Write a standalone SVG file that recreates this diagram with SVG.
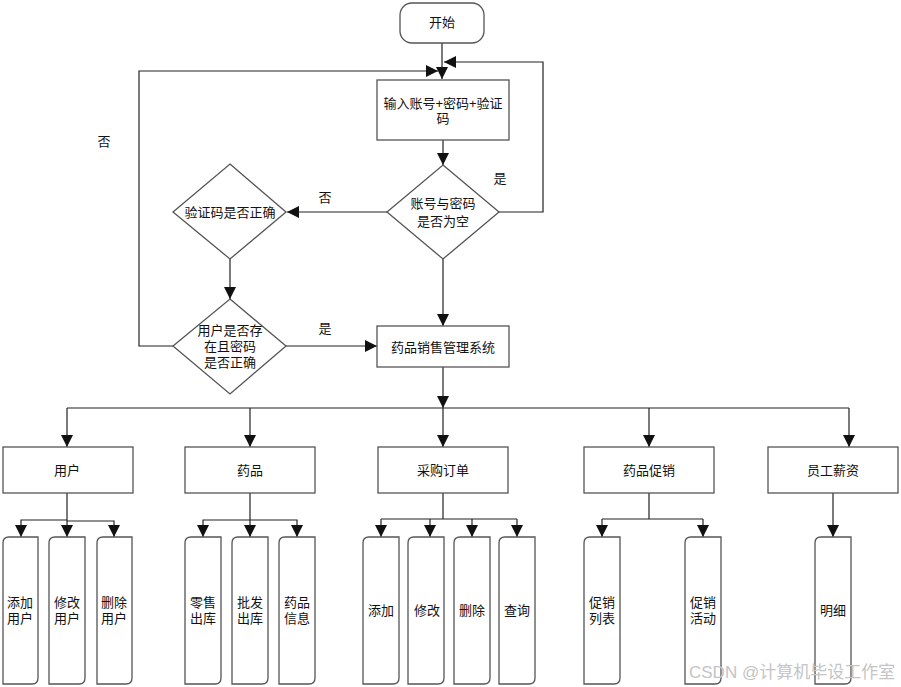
<svg xmlns="http://www.w3.org/2000/svg" width="901" height="687" viewBox="0 0 901 687">
<style>
text{font-family:"Liberation Sans","Noto Sans CJK SC",sans-serif;font-size:13px;fill:#111;text-anchor:middle;dominant-baseline:central}
.box{fill:#fff;stroke:#555;stroke-width:1.3}
.c{fill:none;stroke:#222;stroke-width:1.2}
.wm{fill:#c4c4c4;font-size:17px;text-anchor:start}
</style>
<defs>
<marker id="a" markerUnits="userSpaceOnUse" markerWidth="12" markerHeight="12" viewBox="0 0 10 10" refX="10" refY="5" orient="auto">
<path d="M0,0 L10,5 L0,10 Z" fill="#111"/>
</marker>
</defs>
<rect width="901" height="687" fill="#fff"/>
<g id="connectors">
<path class="c" d="M442,43 V79" marker-end="url(#a)"/>
<path class="c" d="M173,346 H139 V71 H438" marker-end="url(#a)"/>
<path class="c" d="M499,212 H543 V62 H444" marker-end="url(#a)"/>
<path class="c" d="M443,140 V165" marker-end="url(#a)"/>
<path class="c" d="M387,212 H287" marker-end="url(#a)"/>
<path class="c" d="M230,259 V299" marker-end="url(#a)"/>
<path class="c" d="M286,346 H377" marker-end="url(#a)"/>
<path class="c" d="M443,259 V326" marker-end="url(#a)"/>
<path class="c" d="M443,367 V408" marker-end="url(#a)"/>
<path class="c" d="M67,408 H849"/>
<path class="c" d="M67,408 V447" marker-end="url(#a)"/>
<path class="c" d="M250,408 V447" marker-end="url(#a)"/>
<path class="c" d="M443,408 V447" marker-end="url(#a)"/>
<path class="c" d="M649,408 V447" marker-end="url(#a)"/>
<path class="c" d="M849,408 V447" marker-end="url(#a)"/>
<path class="c" d="M67,493 V537" marker-end="url(#a)"/>
<path class="c" d="M67,520 H21 V537" marker-end="url(#a)"/>
<path class="c" d="M67,521 H114 V537" marker-end="url(#a)"/>
<path class="c" d="M250,493 V537" marker-end="url(#a)"/>
<path class="c" d="M250,520 H203 V537" marker-end="url(#a)"/>
<path class="c" d="M250,520 H297 V537" marker-end="url(#a)"/>
<path class="c" d="M443,493 V519"/>
<path class="c" d="M381,519 H517"/>
<path class="c" d="M381,519 V537" marker-end="url(#a)"/>
<path class="c" d="M430,519 V537" marker-end="url(#a)"/>
<path class="c" d="M472,519 V537" marker-end="url(#a)"/>
<path class="c" d="M517,519 V537" marker-end="url(#a)"/>
<path class="c" d="M649,493 V519 M602,519 H703"/>
<path class="c" d="M602,519 V537" marker-end="url(#a)"/>
<path class="c" d="M703,519 V537" marker-end="url(#a)"/>
<path class="c" d="M833,493 V537" marker-end="url(#a)"/>
</g>
<g id="labels">
<text x="500" y="178">是</text>
<text x="325" y="197">否</text>
<text x="325" y="328">是</text>
<text x="104" y="141">否</text>
</g>
<g id="start"><rect class="box" x="400" y="3" width="84" height="40" rx="12"/><text x="442" y="22">开始</text></g>
<g id="input"><rect class="box" x="377" y="80" width="132" height="60"/><text x="443" y="103">输入账号+密码+验证</text><text x="443" y="118">码</text></g>
<g id="d1"><polygon class="box" points="443,165 499,212 443,259 387,212"/><text x="443" y="203">账号与密码</text><text x="443" y="221">是否为空</text></g>
<g id="d2"><polygon class="box" points="230,164 286,212 230,259 173,212"/><text x="230" y="212">验证码是否正确</text></g>
<g id="d3"><polygon class="box" points="230,299 286,346 230,394 173,346"/><text x="230" y="330">用户是否存</text><text x="230" y="346">在且密码</text><text x="230" y="362">是否正确</text></g>
<g id="system"><rect class="box" x="377" y="326" width="132" height="41"/><text x="443" y="347">药品销售管理系统</text></g>
<g id="user"><rect class="box" x="3" y="447" width="130" height="46"/><text x="67" y="470">用户</text></g>
<g id="drug"><rect class="box" x="185" y="447" width="130" height="46"/><text x="250" y="470">药品</text></g>
<g id="purchase"><rect class="box" x="378" y="447" width="130" height="46"/><text x="443" y="470">采购订单</text></g>
<g id="promo"><rect class="box" x="584" y="447" width="130" height="46"/><text x="649" y="470">药品促销</text></g>
<g id="salary"><rect class="box" x="768" y="447" width="130" height="46"/><text x="833" y="470">员工薪资</text></g>
<g id="l1"><path class="box" d="M3,543 Q3,537 9,537 H38 V678 Q38,684 32,684 H3 Z"/><text x="20" y="602">添加</text><text x="20" y="618">用户</text></g>
<g id="l2"><path class="box" d="M49,543 Q49,537 55,537 H85 V678 Q85,684 79,684 H49 Z"/><text x="67" y="602">修改</text><text x="67" y="618">用户</text></g>
<g id="l3"><path class="box" d="M97,543 Q97,537 103,537 H132 V678 Q132,684 126,684 H97 Z"/><text x="114" y="602">删除</text><text x="114" y="618">用户</text></g>
<g id="l4"><path class="box" d="M185,543 Q185,537 191,537 H221 V678 Q221,684 215,684 H185 Z"/><text x="203" y="602">零售</text><text x="203" y="618">出库</text></g>
<g id="l5"><path class="box" d="M232,543 Q232,537 238,537 H268 V678 Q268,684 262,684 H232 Z"/><text x="250" y="602">批发</text><text x="250" y="618">出库</text></g>
<g id="l6"><path class="box" d="M279,543 Q279,537 285,537 H315 V678 Q315,684 309,684 H279 Z"/><text x="297" y="602">药品</text><text x="297" y="618">信息</text></g>
<g id="l7"><path class="box" d="M363,543 Q363,537 369,537 H399 V678 Q399,684 393,684 H363 Z"/><text x="381" y="610">添加</text></g>
<g id="l8"><path class="box" d="M408,543 Q408,537 414,537 H444 V678 Q444,684 438,684 H408 Z"/><text x="427" y="610">修改</text></g>
<g id="l9"><path class="box" d="M454,543 Q454,537 460,537 H490 V678 Q490,684 484,684 H454 Z"/><text x="472" y="610">删除</text></g>
<g id="l10"><path class="box" d="M499,543 Q499,537 505,537 H535 V678 Q535,684 529,684 H499 Z"/><text x="517" y="610">查询</text></g>
<g id="l11"><path class="box" d="M584,543 Q584,537 590,537 H620 V678 Q620,684 614,684 H584 Z"/><text x="602" y="602">促销</text><text x="602" y="618">列表</text></g>
<g id="l12"><path class="box" d="M685,543 Q685,537 691,537 H721 V678 Q721,684 715,684 H685 Z"/><text x="703" y="602">促销</text><text x="703" y="618">活动</text></g>
<g id="l13"><path class="box" d="M815,543 Q815,537 821,537 H851 V678 Q851,684 845,684 H815 Z"/><text x="833" y="610">明细</text></g>
<text class="wm" x="689" y="672">CSDN @计算机毕设工作室</text>
</svg>
